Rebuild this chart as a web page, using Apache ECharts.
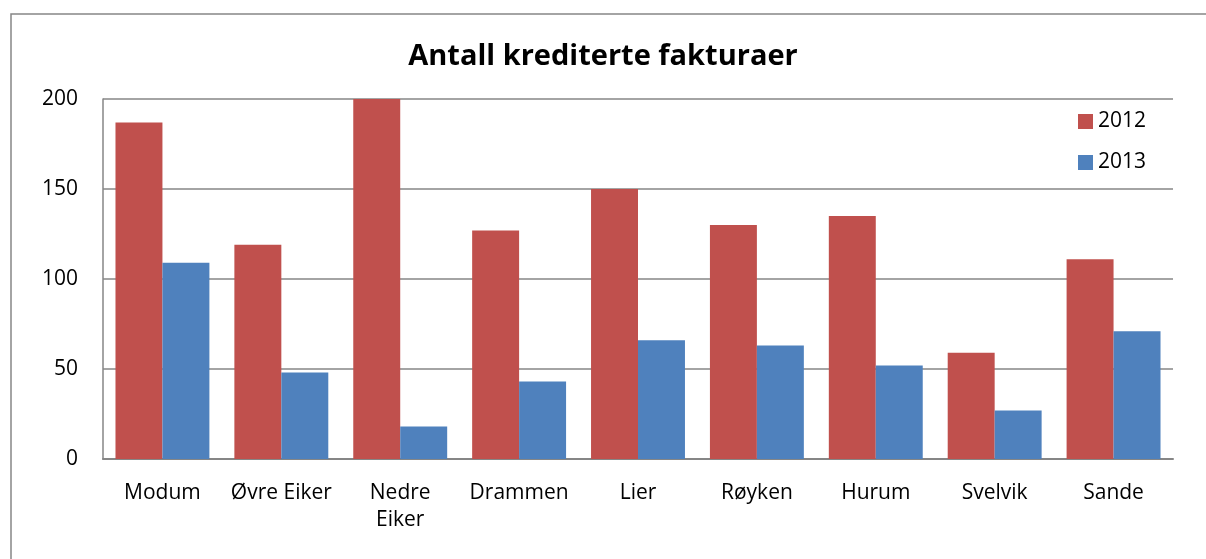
<!DOCTYPE html>
<html>
<head>
<meta charset="utf-8">
<script src="https://cdn.jsdelivr.net/npm/echarts@6/dist/echarts.min.js"></script>
<style>
html,body{margin:0;padding:0;background:#fff;}
#chartDiv{width:1206px;height:559px;}
</style>
</head>
<body>
<div id="chartDiv"></div>
<script>
var categories = ['Modum', 'Øvre Eiker', 'Nedre\nEiker', 'Drammen', 'Lier', 'Røyken', 'Hurum', 'Svelvik', 'Sande'];
var values2012 = [187, 119, 200, 127, 150, 130, 135, 59, 111];
var values2013 = [109, 48, 18, 43, 66, 63, 52, 27, 71];
var yTicks = [0, 50, 100, 150, 200];

var font = 'Open Sans';
// 基于准备好的dom，初始化echarts实例
var myChart = echarts.init(document.getElementById('chartDiv'));
var option = {
    animation: false,
    title: {
        text: 'Antall krediterte fakturaer',
        left: 'center',
        top: 37,
        textStyle: { fontFamily: font, fontSize: 29, fontWeight: 'bold', color: '#000' }
    },
    legend: {
        data: ['2012', '2013'],
        orient: 'vertical',
        left: 1073,
        top: 106,
        itemWidth: 15,
        itemHeight: 15,
        itemGap: 20,
        icon: 'rect',
        textStyle: { fontFamily: font, fontSize: 21, color: '#000' }
    },
    grid: { left: 103, right: 33, top: 99, bottom: 100, containLabel: false },
    xAxis: {
        type: 'category',
        data: categories,
        axisLine: { lineStyle: { color: '#868686', width: 2 } },
        axisTick: { show: false },
        axisLabel: { fontFamily: font, fontSize: 21, color: '#000', margin: 21, lineHeight: 27, interval: 0 }
    },
    yAxis: {
        type: 'value',
        min: yTicks[0],
        max: yTicks[yTicks.length - 1],
        interval: 50,
        axisLine: { show: true, lineStyle: { color: '#868686', width: 1.5 } },
        axisTick: { show: false },
        splitLine: { lineStyle: { color: '#868686', width: 1.5 } },
        axisLabel: { fontFamily: font, fontSize: 21, color: '#000', margin: 25 }
    },
    color: ['#C0504D', '#4F81BD'],
    series: [{
        name: '2012',
        type: 'bar',
        data: values2012,
        barGap: '0%',
        barCategoryGap: '21%'
    }, {
        name: '2013',
        type: 'bar',
        data: values2013
    }],
    graphic: [{
        type: 'rect',
        shape: { x: 11, y: 14, width: 1300, height: 700 },
        style: { fill: 'none', stroke: '#868686', lineWidth: 1.5 },
        silent: true
    }]
};
myChart.setOption(option);
</script>
</body>
</html>
